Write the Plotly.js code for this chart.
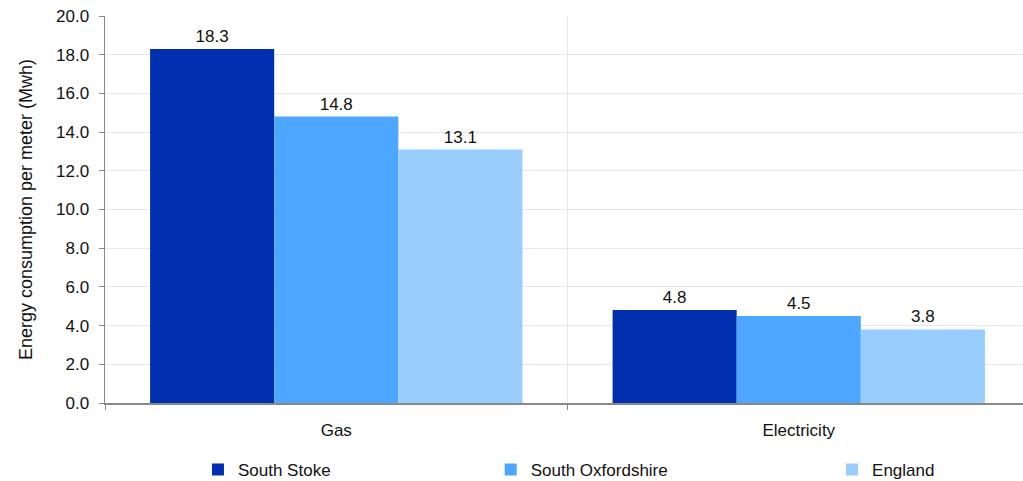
<!DOCTYPE html>
<html><head><meta charset="utf-8">
<script src="https://cdn.plot.ly/plotly-3.0.1.min.js"></script>
<style>html,body{margin:0;padding:0;overflow:hidden;background:#fff}</style>
</head><body><div id="chart" style="width:1030px;height:481px"></div>
<script>
const categories = ["Gas", "Electricity"];
const seriesNames = ["South Stoke", "South Oxfordshire", "England"];
const southStoke = [18.3, 4.8];
const southOxfordshire = [14.8, 4.5];
const england = [13.1, 3.8];
const colors = ["#0030b0", "#4da6ff", "#99ccff"];
const allValues = [southStoke, southOxfordshire, england];
const legendX = [0.1005, 0.417, 0.786];
const legendKeys = ["legend", "legend2", "legend3"];

const font = {family: "Liberation Sans, Arial, sans-serif", size: 17, color: "#111"};
const traces = allValues.map((vals, i) => ({
  type: "bar", x: categories, y: vals, name: seriesNames[i],
  marker: {color: colors[i]},
  text: vals.map(v => v.toFixed(1)), textposition: "outside",
  textfont: font, cliponaxis: false, legend: legendKeys[i]
}));

const layout = {
  width: 1030, height: 481,
  margin: {l: 105, r: 0, t: 16, b: 78},
  font: font,
  paper_bgcolor: "#fff", plot_bgcolor: "#fff",
  barmode: "group", bargap: 0.195, bargroupgap: 0,
  showlegend: true,
  xaxis: {
    type: "category", tickson: "boundaries", showgrid: true, gridcolor: "#e8e8e8",
    ticks: "outside", ticklen: 5, tickcolor: "#888", showline: true, linecolor: "#888",
    linewidth: 1.5, tickfont: font, ticklabelstandoff: 11
  },
  yaxis: {
    range: [0, 20], dtick: 2, tickformat: ".1f", showgrid: true, gridcolor: "#e8e8e8",
    ticks: "outside", ticklen: 5, tickcolor: "#888", showline: true, linecolor: "#888",
    linewidth: 1.5, zeroline: false, tickfont: font, ticklabelstandoff: 6,
    title: {text: "Energy consumption per meter (Mwh)", font: {family: font.family, size: 18, color: "#111"}, standoff: 18}
  }
};
legendKeys.forEach((k, i) => {
  layout[k] = {orientation: "h", x: legendX[i], xanchor: "left", yref: "container", y: 0.023, yanchor: "middle",
    font: font, bgcolor: "rgba(0,0,0,0)", itemwidth: 30};
});
Plotly.newPlot("chart", traces, layout, {displayModeBar: false, staticPlot: true});
</script></body></html>
